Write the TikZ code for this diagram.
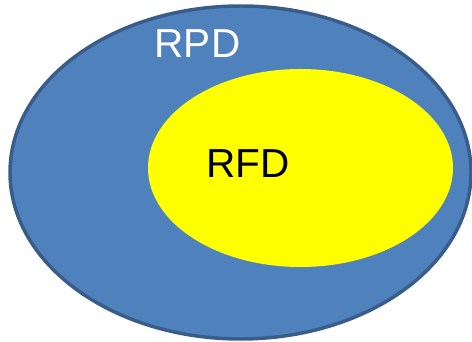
\documentclass[tikz,border=0pt]{standalone}
\usepackage{fontspec}
\setmainfont{Liberation Sans}
\tikzset{every picture/.style={line width=0.75pt}}

\begin{document}
\begin{tikzpicture}[x=0.75pt,y=0.75pt,yscale=-1,xscale=1]
\useasboundingbox (0,0) rectangle (472,342);

%Shape: Ellipse [id:outer RPD] 
\draw  [color={rgb, 255:red, 56; green, 93; blue, 138 }  ,fill={rgb, 255:red, 79; green, 129; blue, 189 }  ,line width=2.6 ] (240.5,172.5) ellipse (230.5 and 166.5) ;
%Shape: Ellipse [id:inner RFD] 
\draw  [draw=none,fill={rgb, 255:red, 255; green, 255; blue, 0 }  ] (300.5,168) ellipse (152.5 and 99) ;

% Text Node
\draw (197.5,58) node (rpd) [anchor=base][inner sep=0pt]  [font=\fontsize{30.4}{35}\selectfont,color=white]  {RPD};
% Text Node
\draw (248,177.7) node (rfd) [anchor=base][inner sep=0pt]  [font=\fontsize{30.4}{35}\selectfont]  {RFD};

\end{tikzpicture}
\end{document}
